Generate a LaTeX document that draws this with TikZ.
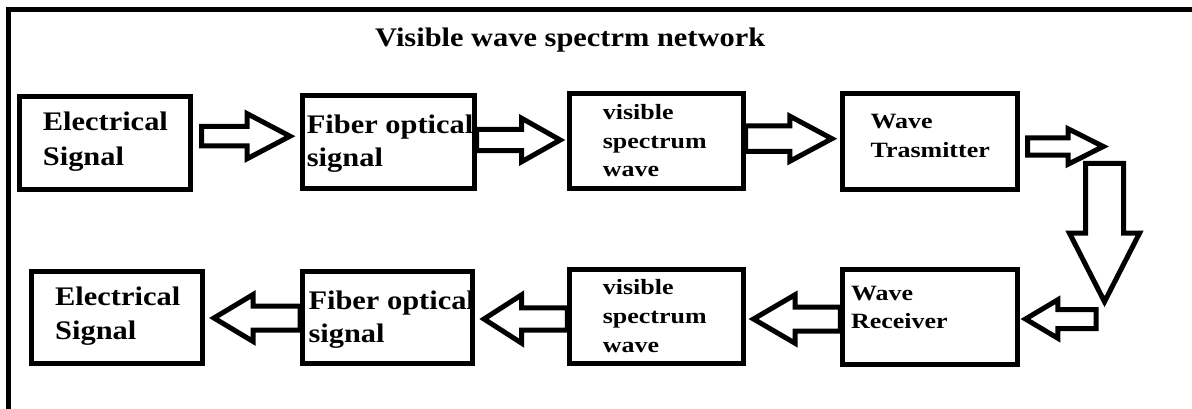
\documentclass[tikz,border=0pt]{standalone}
\usepackage{fontspec}
\setmainfont{Liberation Serif}
\newfontfamily\bigfam{Liberation Serif}[FakeStretch=1.135]
\newfontfamily\smallfam{Liberation Serif}[FakeStretch=1.19]
\usetikzlibrary{calc}
\tikzset{
  box/.style={draw, line width=5pt, inner sep=0pt, rectangle},
  blk/.style={draw, line width=5pt, line join=miter},
  big/.style={anchor=base west, inner sep=0pt, font=\bigfam\bfseries\fontsize{26.8}{30}\selectfont},
  small/.style={anchor=base west, inner sep=0pt, font=\smallfam\bfseries\fontsize{21.8}{26}\selectfont},
}
% horizontal block arrow: #1 shaft end, #2 tip, #3 shaft half width, #4 head half width, #5 signed head length
\newcommand\blockh[5]{%
  \draw[blk] let \p1=(#1), \p2=(#2) in
    (\x1,{\y2+#3pt}) -- ({\x2-(#5pt)},{\y2+#3pt}) -- ({\x2-(#5pt)},{\y2+#4pt}) -- (\x2,\y2)
    -- ({\x2-(#5pt)},{\y2-#4pt}) -- ({\x2-(#5pt)},{\y2-#3pt}) -- (\x1,{\y2-#3pt}) -- cycle;}
% vertical (downward) block arrow
\newcommand\blockv[5]{%
  \draw[blk] let \p1=(#1), \p2=(#2) in
    ({\x2-#3pt},\y1) -- ({\x2-#3pt},{\y2+(#5pt)}) -- ({\x2-#4pt},{\y2+(#5pt)}) -- (\x2,\y2)
    -- ({\x2+#4pt},{\y2+(#5pt)}) -- ({\x2+#3pt},{\y2+(#5pt)}) -- ({\x2+#3pt},\y1) -- cycle;}
\begin{document}
\begin{tikzpicture}[x=1pt,y=-1pt]
\useasboundingbox (0,0) rectangle (1192,409);
\clip (0,0) rectangle (1192,409);
% outer frame (cut by the picture edge)
\draw[line width=5pt] (1250,10) -- (8.8,10) -- (8.8,450);

% title
\node[big] (title) at (375,46.7) {Visible wave spectrm network};

% top row boxes
\node[box, minimum width=171.6pt, minimum height=92.4pt] (b1) at (105,143) {};
\node[box, minimum width=171.7pt, minimum height=92.7pt] (b2) at (388.35,142.15) {};
\node[box, minimum width=173.4pt, minimum height=95pt] (b3) at (656.5,141) {};
\node[box, minimum width=175pt, minimum height=95.7pt] (b4) at (930,141.35) {};
% bottom row boxes
\node[box, minimum width=170.7pt, minimum height=91.7pt] (b5) at (117.15,317.35) {};
\node[box, minimum width=170pt, minimum height=91.7pt] (b6) at (387.5,317.35) {};
\node[box, minimum width=173.4pt, minimum height=94pt] (b7) at (656.5,316.2) {};
\node[box, minimum width=174.6pt, minimum height=94.8pt] (b8) at (930.2,316.6) {};

% texts
\node[big] (t1a) at (42.7,130.7) {Electrical};
\node[big] (t1b) at (42.7,165.7) {Signal};
\node[big] (t2a) at (306.7,133.3) {Fiber optical};
\node[big] (t2b) at (306.7,167) {signal};
\node[small] (t3a) at (602.7,119.3) {visible};
\node[small] (t3b) at (602.7,148.3) {spectrum};
\node[small] (t3c) at (602.7,176.7) {wave};
\node[small] (t4a) at (870.5,128.3) {Wave};
\node[small] (t4b) at (870.5,157.3) {Trasmitter};
\node[big] (t5a) at (55,305.7) {Electrical};
\node[big] (t5b) at (55,339.7) {Signal};
\node[big] (t6a) at (308.3,309) {Fiber optical};
\node[big] (t6b) at (308.3,342.3) {signal};
\node[small] (t7a) at (602.7,294) {visible};
\node[small] (t7b) at (602.7,323.3) {spectrum};
\node[small] (t7c) at (602.7,352.3) {wave};
\node[small] (t8a) at (851,300) {Wave};
\node[small] (t8b) at (851,328.3) {Receiver};

% free ends
\coordinate (d1) at (1104.5,163.5);
\coordinate (d2) at (1104.5,301.7);
\coordinate (r1) at (1096.2,319);

% arrows, top row
\blockh{$(b1.east)+(8.2,-6.8)$}{$(b2.west)+(-10,-5.95)$}{9.7}{22.6}{43}
\blockh{b2.east}{$(b3.west)+(-7.1,-1)$}{10.7}{21.7}{38.5}
\blockh{b3.east}{$(b4.west)+(-8.1,-2.65)$}{12.8}{22.5}{42}
\blockh{$(b4.east)+(7.7,5.15)$}{$(b4.east)+(83.2,5.15)$}{8.65}{17.8}{35.2}
% down arrow
\blockv{d1}{d2}{19}{35}{68.5}
% arrows, bottom row
\blockh{r1}{$(b8.east)+(5.5,2.4)$}{9.5}{19.2}{-32.3}
\blockh{b8.west}{$(b7.east)+(7.8,2.8)$}{12}{24.2}{-41.5}
\blockh{b7.west}{$(b6.east)+(9,1.65)$}{11.2}{24.2}{-37.7}
\blockh{b6.west}{$(b5.east)+(9,0.65)$}{12}{23.4}{-39}
\end{tikzpicture}
\end{document}
